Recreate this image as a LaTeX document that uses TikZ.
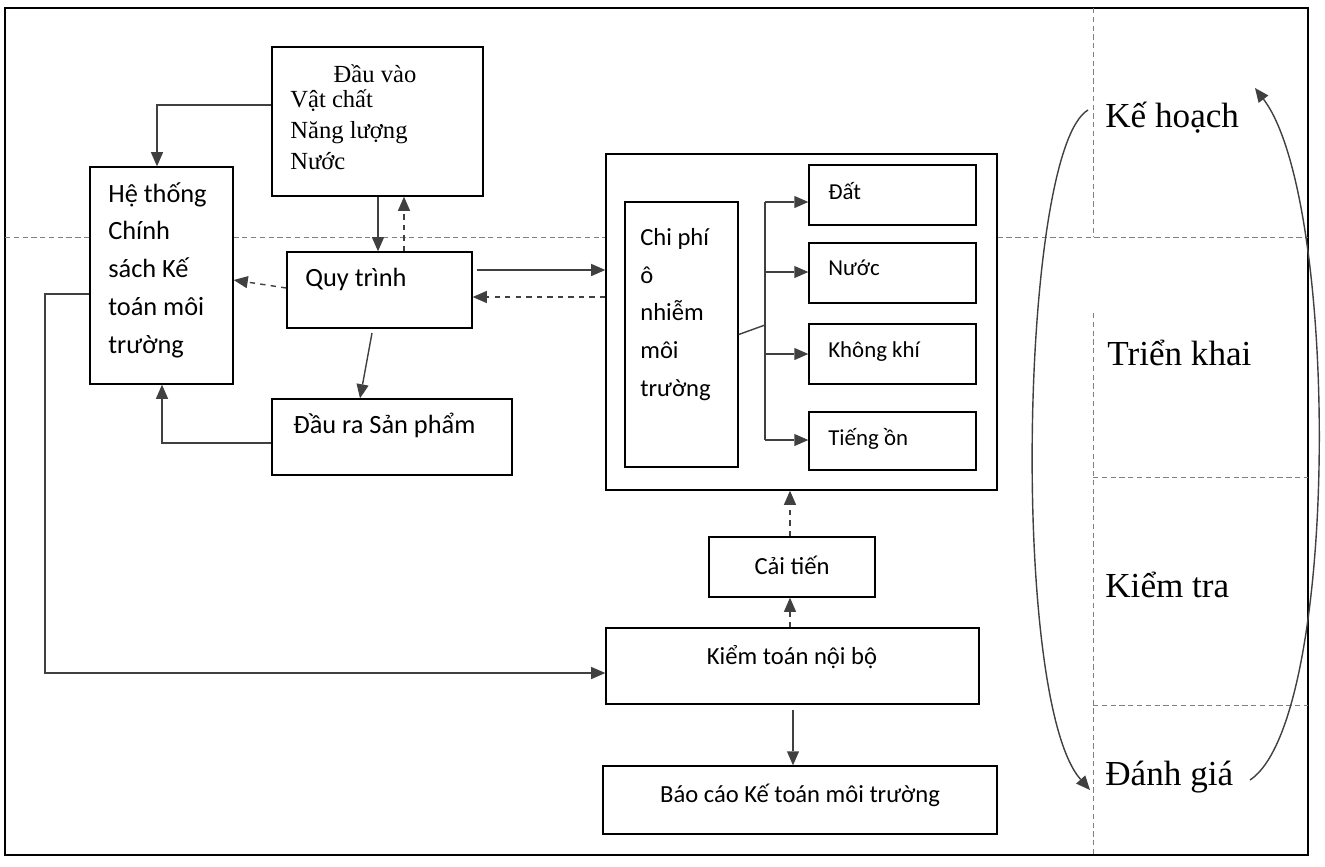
\documentclass[tikz,border=0pt]{standalone}
\usepackage{fontspec}
\setmainfont{Liberation Serif}
\newfontfamily\calib{Carlito}
\usetikzlibrary{arrows.meta,calc}

\definecolor{ink}{RGB}{64,64,64}
\tikzset{
  box/.style={draw=black, fill=white, thick, inner sep=0pt},
  arr/.style={ink, thick, -{Triangle[length=8pt,width=7pt,sep=0pt,line width=0pt]}},
  darr/.style={arr, dashed},
  grid/.style={gray, densely dashed, thin},
  lbl/.style={font=\calib\fontsize{15}{21.5}\selectfont, align=left, anchor=north west, inner sep=0pt},
  phase/.style={font=\fontsize{20}{24}\selectfont, anchor=west, inner sep=0pt}
}

\begin{document}
\begin{tikzpicture}[x=0.02cm, y=-0.02cm]
\useasboundingbox (0,0) rectangle (1325,866);
\draw [thick] (5,8) rectangle (1308,855);
%
\draw [grid] (5,237) -- (1308,237);
\draw [grid] (1093,8) -- (1093,237);
\draw [grid] (1093,313) -- (1093,855);
\draw [grid] (1093,477) -- (1308,477);
\draw [grid] (1093,705) -- (1308,705);
%
\node [box, minimum width=211*0.02cm, minimum height=149*0.02cm] (vao) at (377.5,121.5) {};
\node [box, minimum width=143*0.02cm, minimum height=217*0.02cm] (hethong) at (161.5,275.5) {};
\node [box, minimum width=185*0.02cm, minimum height=76*0.02cm] (quytrinh) at (379.5,290) {};
\node [box, minimum width=240*0.02cm, minimum height=76*0.02cm] (daura) at (392,437) {};
\node [box, minimum width=391*0.02cm, minimum height=336*0.02cm] (chiphibox) at (801.5,322) {};
\node [box, minimum width=113*0.02cm, minimum height=265*0.02cm] (chiphi) at (681.5,334.5) {};
\node [box, minimum width=167*0.02cm, minimum height=60*0.02cm] (dat) at (892.5,195) {};
\node [box, minimum width=167*0.02cm, minimum height=60*0.02cm] (nuoc) at (892.5,273) {};
\node [box, minimum width=167*0.02cm, minimum height=60*0.02cm] (khongkhi) at (892.5,354) {};
\node [box, minimum width=167*0.02cm, minimum height=58*0.02cm] (tiengon) at (892.5,441) {};
\node [box, minimum width=166*0.02cm, minimum height=60*0.02cm] (caitien) at (792,567) {};
\node [box, minimum width=373*0.02cm, minimum height=76*0.02cm] (kiemtoan) at (792.5,666) {};
\node [box, minimum width=394*0.02cm, minimum height=68*0.02cm] (baocao) at (800,800) {};
%
\node [font=\fontsize{14}{17.6}\selectfont, inner sep=0pt] (tvao) at (375,74) {Đầu vào};
\node [font=\fontsize{14}{17.6}\selectfont, align=left, anchor=north west, inner sep=0pt] (tvao2) at (290,89) {Vật chất\\Năng lượng\\Nước};
\node [lbl] (thethong) at (108,182) {Hệ thống\\Chính\\sách Kế\\toán môi\\trường};
\node [lbl] (tquytrinh) at (305,268) {Quy trình};
\node [lbl] (tdaura) at (293,413) {Đầu ra Sản phẩm};
\node [lbl, font=\calib\fontsize{14}{21.5}\selectfont] (tchiphi) at (640,228) {Chi phí\\ô\\nhiễm\\môi\\trường};
\node [lbl, font=\calib\fontsize{13}{15}\selectfont] (tdat) at (828,182) {Đất};
\node [lbl, font=\calib\fontsize{13}{15}\selectfont] (tnuoc) at (828,260) {Nước};
\node [lbl, font=\calib\fontsize{13}{15}\selectfont] (tkhongkhi) at (828,341) {Không khí};
\node [lbl, font=\calib\fontsize{13}{15}\selectfont] (ttiengon) at (828,428) {Tiếng ồn};
\node [font=\calib\fontsize{14}{17}\selectfont, inner sep=0pt] (tcaitien) at (792,565) {Cải tiến};
\node [font=\calib\fontsize{14}{17}\selectfont, inner sep=0pt] (tkiemtoan) at (792,657) {Kiểm toán nội bộ};
\node [font=\calib\fontsize{14}{17}\selectfont, inner sep=0pt] (tbaocao) at (800,795) {Báo cáo Kế toán môi trường};
%
\node [phase] (kehoach) at (1105,118) {Kế hoạch};
\node [phase] (trienkhai) at (1107,353) {Triển khai};
\node [phase] (kiemtra) at (1105,585) {Kiểm tra};
\node [phase] (danhgia) at (1105,777) {Đánh giá};
%
\draw [arr] (vao.west |- 0,105) -| (hethong.north -| 157,0);
\draw [arr] (vao.south -| 378,0) -- (quytrinh.north -| 378,0);
\draw [darr] (quytrinh.north -| 404,0) -- (vao.south -| 404,0);
\draw [darr] (quytrinh.west |- 0,288) -- (hethong.east |- 0,280);
\draw [arr] (477,270) -- (chiphibox.west |- 0,270);
\draw [darr] (chiphibox.west |- 0,297) -- (quytrinh.east |- 0,297);
\draw [arr] (372,333) -- (daura.north -| 360,0);
\draw [arr] (daura.west |- 0,443) -| (hethong.south -| 162,0);
\draw [arr] (hethong.west |- 0,294) -| (45,673) -- (kiemtoan.west |- 0,673);
\draw [ink, thick] (chiphi.east) -- (765,325);
\draw [ink, thick] (765,202) -- (765,440);
\foreach \b/\y in {dat/202, nuoc/272, khongkhi/354, tiengon/440}
  \draw [arr] (765,\y) -- (\b.west |- 0,\y);
\draw [darr] (kiemtoan.north -| 790,0) -- (caitien.south -| 790,0);
\draw [darr] (caitien.north -| 790,0) -- (chiphibox.south -| 790,0);
\draw [arr] (793,710) -- (baocao.north -| 793,0);
%
\draw [arr] (1088,110) .. controls (1020,150) and (1010,700) .. (1090,790);
\draw [arr] (1250,780) .. controls (1340,720) and (1340,200) .. (1255,88);
%%%%%%%%%%%%%%%%%%%%%%%%%%%%%%%
\end{tikzpicture}
\end{document}
